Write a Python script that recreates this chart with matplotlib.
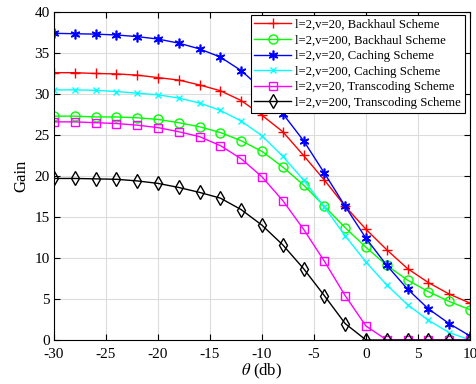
import numpy as np
import matplotlib
matplotlib.use('Agg')
import matplotlib.pyplot as plt

plt.rcParams['font.family'] = ['Liberation Serif', 'DejaVu Serif']
plt.rcParams['mathtext.fontset'] = 'stix'
plt.rcParams['axes.unicode_minus'] = False

theta = np.arange(-30, 11, 2)

backhaul_v20 = [32.6, 32.6, 32.5, 32.45, 32.3, 32.0, 31.7, 31.1, 30.4, 29.2, 27.4,
                25.4, 22.5, 19.5, 16.3, 13.5, 11.0, 8.7, 7.0, 5.6, 4.5]
backhaul_v200 = [27.3, 27.3, 27.2, 27.2, 27.1, 26.9, 26.5, 26.0, 25.3, 24.3, 23.0,
                 21.1, 18.9, 16.3, 13.7, 11.3, 9.1, 7.3, 5.9, 4.7, 3.7]
caching_v20 = [37.4, 37.35, 37.3, 37.2, 37.0, 36.7, 36.2, 35.5, 34.5, 32.85, 30.6,
               27.6, 24.3, 20.35, 16.3, 12.4, 9.1, 6.2, 3.8, 2.0, 0.5]
caching_v200 = [30.5, 30.5, 30.45, 30.3, 30.1, 29.9, 29.5, 28.9, 28.0, 26.7, 24.9,
                22.4, 19.5, 16.2, 12.7, 9.5, 6.7, 4.3, 2.4, 0.9, 0.0]
transcoding_v20 = [26.6, 26.6, 26.5, 26.4, 26.2, 25.9, 25.4, 24.8, 23.7, 22.1, 19.9,
                   17.0, 13.5, 9.6, 5.4, 1.7, 0.0, 0.0, 0.0, 0.0, 0.0]
transcoding_v200 = [19.7, 19.7, 19.65, 19.6, 19.4, 19.1, 18.6, 18.0, 17.3, 15.9, 14.0,
                    11.6, 8.7, 5.4, 2.0, 0.0, 0.0, 0.0, 0.0, 0.0, 0.0]

labels = ['l=2,v=20, Backhaul Scheme', 'l=2,v=200, Backhaul Scheme',
          'l=2,v=20, Caching Scheme', 'l=2,v=200, Caching Scheme',
          'l=2,v=20, Transcoding Scheme', 'l=2,v=200, Transcoding Scheme']

fig = plt.figure(figsize=(4.77, 3.84), dpi=100)
ax = fig.add_axes([54/477, 1 - 340/384, 416/477, 328/384])

asterisk = (6, 2, 0)
ax.plot(theta, backhaul_v20, '-+', color='#ff0000', lw=1, ms=7, mew=1, label=labels[0])
ax.plot(theta, backhaul_v200, '-o', color='#00ff00', lw=1, ms=6.5, mew=1, mfc='none', label=labels[1])
ax.plot(theta, caching_v20, '-', marker=asterisk, color='#0000ff', lw=1, ms=7, mew=1.2, label=labels[2])
ax.plot(theta, caching_v200, '-x', color='#00ffff', lw=1, ms=5, mew=1, label=labels[3])
ax.plot(theta, transcoding_v20, '-s', color='#ff00ff', lw=1, ms=5.5, mew=1, mfc='none', label=labels[4])
ax.plot(theta, transcoding_v200, '-d', color='k', lw=1, ms=7.5, mew=1, mfc='none', label=labels[5])

ax.set_xlim(-30, 10)
ax.set_ylim(0, 40)
ax.set_xticks(np.arange(-30, 11, 5))
ax.set_yticks(np.arange(0, 41, 5))
ax.grid(True, color='#dcdcdc', lw=0.8)
ax.set_axisbelow(True)
ax.tick_params(direction='in', top=True, right=True, labelsize=11, length=4)
ax.tick_params(axis='x', pad=6)
ax.tick_params(axis='y', pad=3)
for s in ax.spines.values():
    s.set_linewidth(0.8)

ax.set_xlabel(r'$\theta$ (db)', fontsize=12, labelpad=0)
ax.set_ylabel('Gain', fontsize=12, labelpad=4)

leg = ax.legend(loc='upper right', bbox_to_anchor=(1 - 5/416, 1 - 3/328),
                borderaxespad=0, fontsize=9.2, handlelength=2.9,
                fancybox=False, edgecolor='k', framealpha=1,
                labelspacing=0.28, borderpad=0.3, handletextpad=0.3)
leg.get_frame().set_linewidth(0.8)

fig.savefig('out.png', dpi=100)
